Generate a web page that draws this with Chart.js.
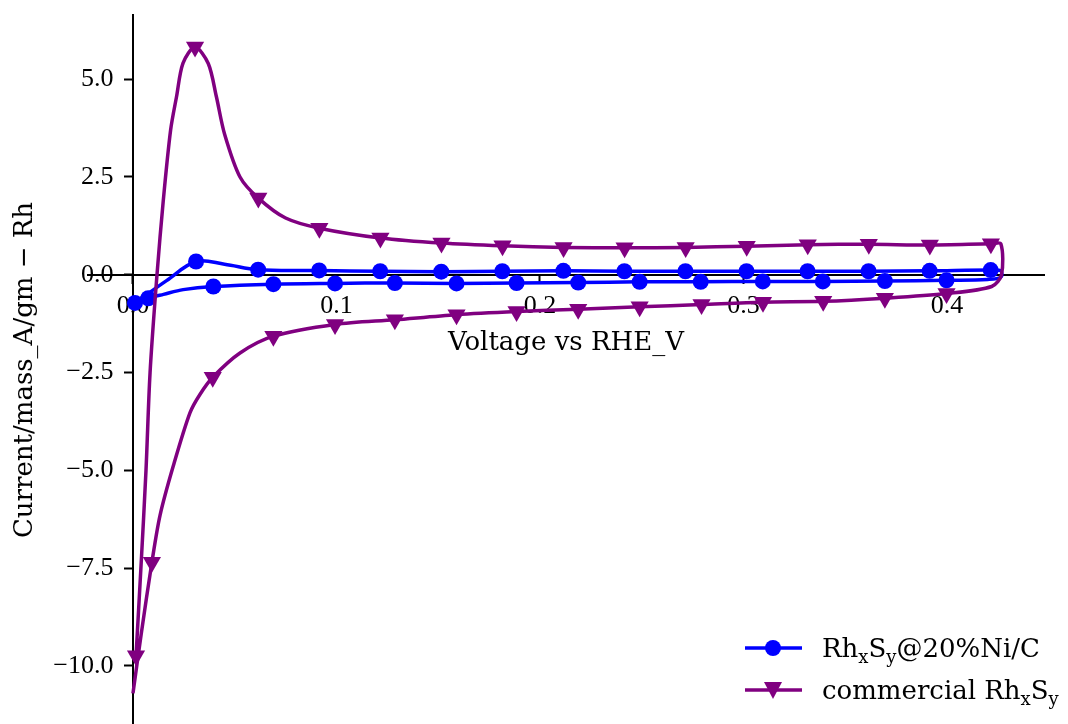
<!DOCTYPE html>
<html>
<head>
<meta charset="utf-8">
<script src="https://cdn.jsdelivr.net/npm/chart.js@4.4.1/dist/chart.umd.min.js"></script>
<style>
  html, body { margin: 0; padding: 0; background: #fff; overflow: hidden; }
  /* the y spine runs off the bottom of the picture, so the canvas is a bit taller than the frame */
  #frame { width: 1068px; height: 724px; overflow: hidden; }
</style>
</head>
<body>
<div id="frame"><canvas id="cv" width="1068" height="734"></canvas></div>
<script>
const xTicks = [0, 0.1, 0.2, 0.3, 0.4];
const yTicks = [-10, -7.5, -5, -2.5, 0, 2.5, 5];

// Rh_xS_y@20%Ni/C, forward scan then back (V, current, marker shown)
const niV = [0.001, 0.0165, 0.031, 0.045, 0.0615, 0.0915, 0.1215, 0.1515, 0.1815, 0.2115, 0.2415, 0.2715, 0.3015, 0.3315, 0.3615, 0.3915, 0.4215, 0.4265,
  0.4265, 0.42, 0.3998, 0.3695, 0.339, 0.3095, 0.279, 0.249, 0.2188, 0.1885, 0.159, 0.1287, 0.0993, 0.069, 0.0395, 0.0247, 0.015, 0.0075, 0.001];
const niI = [-0.72, -0.15, 0.34, 0.27, 0.13, 0.11, 0.09, 0.08, 0.09, 0.10, 0.09, 0.09, 0.09, 0.09, 0.09, 0.10, 0.12, 0.10,
  -0.06, -0.12, -0.14, -0.16, -0.17, -0.17, -0.18, -0.18, -0.20, -0.21, -0.22, -0.21, -0.22, -0.24, -0.30, -0.38, -0.50, -0.60, -0.72];
const niMark = [1, 0, 1, 0, 1, 1, 1, 1, 1, 1, 1, 1, 1, 1, 1, 1, 1, 0,
  0, 0, 1, 1, 1, 1, 1, 1, 1, 1, 1, 1, 1, 1, 1, 0, 0, 1, 0];

// commercial Rh_xS_y
const comV = [0.0015, 0.004, 0.0064, 0.0084, 0.0118, 0.0149, 0.0185, 0.0214, 0.0246, 0.0305, 0.037, 0.041, 0.045, 0.0526, 0.0616, 0.075, 0.0916,
  0.1216, 0.1516, 0.1816, 0.2116, 0.2416, 0.2716, 0.3016, 0.3316, 0.3616, 0.3916, 0.4216, 0.4265,
  0.4268, 0.422, 0.3998, 0.3695, 0.3392, 0.3096, 0.2794, 0.249, 0.2188, 0.1885, 0.159, 0.1287, 0.0993, 0.069, 0.0526, 0.0392,
  0.0329, 0.028, 0.0198, 0.0133, 0.0093, 0.004, 0.0];
const comI = [-9.74, -7.4, -5.0, -2.5, 0.0, 1.9, 3.7, 4.55, 5.41, 5.82, 5.4, 4.55, 3.6, 2.5, 1.96, 1.45, 1.19,
  0.94, 0.81, 0.74, 0.70, 0.69, 0.70, 0.73, 0.77, 0.78, 0.76, 0.79, 0.79,
  0.0, -0.30, -0.48, -0.60, -0.68, -0.70, -0.76, -0.82, -0.88, -0.94, -1.02, -1.15, -1.27, -1.57, -2.0, -2.62,
  -3.06, -3.53, -4.89, -6.15, -7.35, -9.2, -10.7];
const comMark = [1, 0, 0, 0, 0, 0, 0, 0, 0, 1, 0, 0, 0, 0, 1, 0, 1,
  1, 1, 1, 1, 1, 1, 1, 1, 1, 1, 1, 0,
  0, 0, 1, 1, 1, 1, 1, 1, 1, 1, 1, 1, 1, 1, 0, 1,
  0, 0, 0, 0, 1, 0, 0];

const pts = (vs, is) => vs.map((v, k) => ({ x: v, y: is[k] }));
const fmt = (v) => v.toFixed(1).replace("-", "\u2212") + "   ";

// axes sit on the zero lines, so they should not eat into the plot area
const noPad = (s) => {
  s.paddingTop = 0;
  s.paddingBottom = 0;
  s.paddingLeft = 0;
  s.paddingRight = 0;
};

function drawRich(ctx, label, x, y, size) {
  // "_" turns the next character into a subscript
  let cx = x;
  for (let k = 0; k < label.length; k++) {
    let ch = label[k];
    let sub = false;
    if (ch === "_" && k + 1 < label.length) {
      ch = label[++k];
      sub = true;
    }
    ctx.font = (sub ? Math.round(size * 0.7) : size) + 'px "DejaVu Serif"';
    ctx.fillText(ch, cx, y + (sub ? size * 0.22 : 0));
    cx += ctx.measureText(ch).width;
  }
}

const extras = {
  id: "extras",
  afterDraw(chart) {
    const ctx = chart.ctx;
    ctx.save();
    ctx.fillStyle = "#000";
    ctx.font = '26px "DejaVu Serif"';
    ctx.textAlign = "center";
    ctx.textBaseline = "middle";
    ctx.fillText("Voltage vs RHE_V", 566, 343);
    ctx.translate(25, 370);
    ctx.rotate(-Math.PI / 2);
    ctx.fillText("Current/mass_A/gm \u2212 Rh", 0, 0);
    ctx.restore();

    // legend
    ctx.save();
    chart.data.datasets.forEach((ds, k) => {
      const y = 648 + k * 42;
      ctx.strokeStyle = ds.borderColor;
      ctx.fillStyle = ds.borderColor;
      ctx.lineWidth = 3.5;
      ctx.beginPath();
      ctx.moveTo(745, y);
      ctx.lineTo(802, y);
      ctx.stroke();
      ctx.beginPath();
      if (ds.pointStyle === "circle") {
        ctx.arc(773, y, 8, 0, Math.PI * 2);
      } else {
        ctx.moveTo(764, y - 8);
        ctx.lineTo(782, y - 8);
        ctx.lineTo(773, y + 9);
        ctx.closePath();
      }
      ctx.fill();
      ctx.textAlign = "left";
      ctx.textBaseline = "alphabetic";
      ctx.fillStyle = "#000";
      drawRich(ctx, ds.label, 822, y + 9, 26);
    });
    ctx.restore();
  },
};

new Chart(document.getElementById("cv"), {
  type: "scatter",
  data: {
    datasets: [
      {
        label: "Rh_xS_y@20%Ni/C",
        data: pts(niV, niI),
        showLine: true,
        borderColor: "#0000ff",
        backgroundColor: "#0000ff",
        borderWidth: 3.5,
        tension: 0.35,
        pointStyle: "circle",
        pointRadius: (c) => (niMark[c.dataIndex] ? 8 : 0),
        pointBorderWidth: 0,
        order: 1,
        clip: false,
      },
      {
        label: "commercial Rh_xS_y",
        data: pts(comV, comI),
        showLine: true,
        borderColor: "#800080",
        backgroundColor: "#800080",
        borderWidth: 3.5,
        tension: 0.3,
        pointStyle: "triangle",
        pointRotation: 180,
        pointRadius: (c) => (comMark[c.dataIndex] ? 10.5 : 0),
        pointBorderWidth: 0,
        order: 0,
        clip: false,
      },
    ],
  },
  options: {
    responsive: false,
    animation: false,
    events: [],
    layout: { padding: { left: 88, right: 24, top: 15, bottom: 0 } },
    plugins: { legend: { display: false }, tooltip: { enabled: false } },
    scales: {
      x: {
        type: "linear",
        min: -0.0221,
        max: 0.4477,
        position: { y: 0 },
        afterBuildTicks: (s) => { s.ticks = xTicks.map((v) => ({ value: v })); },
        afterFit: noPad,
        ticks: {
          callback: (v) => v.toFixed(1),
          font: { family: "Liberation Serif", size: 26 },
          color: "#000",
          padding: 8,
          maxRotation: 0,
          autoSkip: false,
        },
        grid: { drawOnChartArea: false, drawTicks: true, tickLength: 8, tickColor: "#000", tickWidth: 2 },
        border: { color: "#000", width: 2 },
      },
      y: {
        type: "linear",
        min: -11.47,
        max: 6.64,
        position: { x: 0 },
        afterBuildTicks: (s) => { s.ticks = yTicks.map((v) => ({ value: v })); },
        afterFit: noPad,
        ticks: {
          callback: (v) => fmt(v),
          font: { family: "Liberation Serif", size: 26 },
          color: "#000",
          padding: 8,
          autoSkip: false,
        },
        grid: { drawOnChartArea: false, drawTicks: true, tickLength: 8, tickColor: "#000", tickWidth: 2 },
        border: { color: "#000", width: 2 },
      },
    },
  },
  plugins: [extras],
});
</script>
</body>
</html>
